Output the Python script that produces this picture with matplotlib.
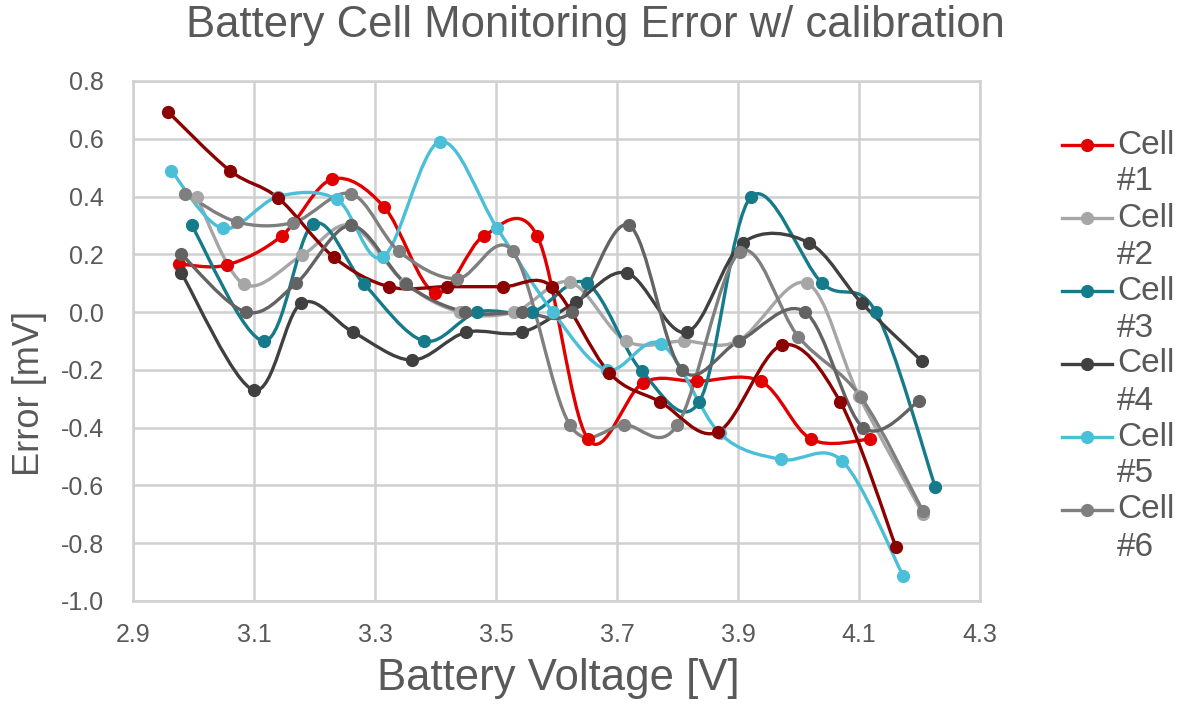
import matplotlib
matplotlib.use("Agg")
import matplotlib.pyplot as plt
from matplotlib.path import Path
from matplotlib.patches import PathPatch
from matplotlib.lines import Line2D

plt.rcParams['font.family'] = ['Liberation Sans', 'DejaVu Sans']

# --- data (battery voltage [V], error [mV]) ---
cell1_v = [2.976, 3.055, 3.146, 3.229, 3.315, 3.400, 3.480, 3.568, 3.652, 3.743, 3.832, 3.938, 4.021, 4.118]
cell1_e = [0.167, 0.163, 0.264, 0.46, 0.364, 0.066, 0.264, 0.264, -0.44, -0.245, -0.24, -0.24, -0.44, -0.44]

cell2_v = [3.005, 3.083, 3.180, 3.260, 3.350, 3.440, 3.530, 3.622, 3.715, 3.810, 3.900, 4.014, 4.100, 4.206]
cell2_e = [0.40, 0.097, 0.198, 0.30, 0.10, 0.0, 0.0, 0.104, -0.10, -0.10, -0.10, 0.10, -0.29, -0.70]

cell3_v = [2.997, 3.117, 3.198, 3.282, 3.381, 3.469, 3.560, 3.650, 3.741, 3.836, 3.922, 4.039, 4.128, 4.226]
cell3_e = [0.30, -0.10, 0.305, 0.097, -0.10, 0.0, 0.0, 0.10, -0.205, -0.31, 0.40, 0.10, 0.0, -0.605]

cell4_v = [2.980, 3.100, 3.178, 3.264, 3.361, 3.450, 3.543, 3.632, 3.717, 3.815, 3.908, 4.017, 4.105, 4.204]
cell4_e = [0.135, -0.27, 0.03, -0.07, -0.166, -0.07, -0.07, 0.035, 0.135, -0.07, 0.24, 0.24, 0.03, -0.17]

cell5_v = [2.963, 3.048, 3.140, 3.237, 3.313, 3.407, 3.502, 3.594, 3.683, 3.773, 3.870, 3.971, 4.072, 4.173]
cell5_e = [0.49, 0.29, 0.40, 0.39, 0.19, 0.59, 0.29, 0.0, -0.20, -0.11, -0.42, -0.51, -0.515, -0.913]

cell6_v = [2.986, 3.072, 3.165, 3.260, 3.340, 3.435, 3.528, 3.622, 3.712, 3.800, 3.903, 4.000, 4.103, 4.206]
cell6_e = [0.41, 0.312, 0.31, 0.41, 0.21, 0.115, 0.21, -0.39, -0.39, -0.39, 0.208, -0.086, -0.294, -0.69]

cell7_v = [2.958, 3.060, 3.140, 3.232, 3.323, 3.419, 3.512, 3.593, 3.687, 3.771, 3.867, 3.973, 4.069, 4.161]
cell7_e = [0.693, 0.49, 0.395, 0.19, 0.088, 0.088, 0.088, 0.088, -0.21, -0.31, -0.415, -0.114, -0.311, -0.813]

cell8_v = [2.980, 3.087, 3.170, 3.260, 3.352, 3.449, 3.543, 3.625, 3.720, 3.807, 3.902, 4.011, 4.107, 4.200]
cell8_e = [0.20, 0.0, 0.10, 0.30, 0.097, 0.0, 0.0, 0.0, 0.30, -0.20, -0.10, 0.0, -0.40, -0.307]

labels = ['Cell\n#1', 'Cell\n#2', 'Cell\n#3', 'Cell\n#4', 'Cell\n#5', 'Cell\n#6']
colors = ['#E00000', '#A6A6A6', '#157A8A', '#404040', '#4BBFD7', '#7F7F7F', '#8B0000', '#636363']
series = [(cell1_v, cell1_e), (cell2_v, cell2_e), (cell3_v, cell3_e), (cell4_v, cell4_e),
          (cell5_v, cell5_e), (cell6_v, cell6_e), (cell7_v, cell7_e), (cell8_v, cell8_e)]

TXT = '#595959'


def smooth_path(xs, ys):
    # Excel-like smoothed line: cubic bezier through the points
    pts = list(zip(xs, ys))
    n = len(pts)
    verts = [pts[0]]
    codes = [Path.MOVETO]
    for i in range(n - 1):
        p0 = pts[max(i - 1, 0)]
        p1 = pts[i]
        p2 = pts[i + 1]
        p3 = pts[min(i + 2, n - 1)]
        c1 = (p1[0] + (p2[0] - p0[0]) / 6, p1[1] + (p2[1] - p0[1]) / 6)
        c2 = (p2[0] - (p3[0] - p1[0]) / 6, p2[1] - (p3[1] - p1[1]) / 6)
        verts += [c1, c2, p2]
        codes += [Path.CURVE4] * 3
    return Path(verts, codes)


fig = plt.figure(figsize=(11.82, 7.13), dpi=100)
ax = fig.add_axes([133 / 1182, 1 - 601 / 713, 847 / 1182, 520 / 713])

for (xs, ys), c in zip(series, colors):
    ax.add_patch(PathPatch(smooth_path(xs, ys), facecolor='none', edgecolor=c, lw=2.4, zorder=3))
    ax.plot(xs, ys, ls='none', marker='o', ms=8.5, color=c, zorder=4)

ax.set_xlim(2.9, 4.3)
ax.set_ylim(-1.0, 0.8)
ax.set_xticks([2.9, 3.1, 3.3, 3.5, 3.7, 3.9, 4.1, 4.3])
ax.set_yticks([-1.0, -0.8, -0.6, -0.4, -0.2, 0.0, 0.2, 0.4, 0.6, 0.8])
ax.set_xticklabels(['%.1f' % t for t in ax.get_xticks()])
ax.set_yticklabels(['%.1f' % t for t in ax.get_yticks()])
ax.tick_params(length=0, labelsize=18, labelcolor=TXT)
ax.tick_params(axis='y', pad=21)
ax.tick_params(axis='x', pad=16)
ax.grid(True, color='#D0D0D0', lw=1.8, zorder=0)
ax.set_axisbelow(True)
for s in ax.spines.values():
    s.set_color('#D0D0D0')
    s.set_linewidth(1.8)

ax.set_xlabel('Battery Voltage [V]', fontsize=31.5, color=TXT)
ax.set_ylabel('Error [mV]', fontsize=26, color=TXT)
ax.xaxis.set_label_coords(0.502, -0.11)
ax.yaxis.set_label_coords(-0.102, 0.40)

fig.text(0.504, 1 - 26 / 713, 'Battery Cell Monitoring Error w/ calibration',
         ha='center', va='center', fontsize=31.4, color=TXT)

# legend (Excel wraps the labels onto two lines; only first six cells shown)
for i, (lab, c) in enumerate(zip(labels, colors[:6])):
    yc = 1 - (145 + 73 * i) / 713
    fig.add_artist(Line2D([1062 / 1182, 1112 / 1182], [yc, yc], color=c, lw=2.4,
                          transform=fig.transFigure))
    fig.add_artist(Line2D([1087 / 1182], [yc], marker='o', ms=8.5, color=c,
                          transform=fig.transFigure))
    fig.text(1117 / 1182, yc, lab.split('\n')[0], ha='left', va='center', fontsize=24, color=TXT)
    fig.text(1117 / 1182, yc - 37 / 713, lab.split('\n')[1], ha='left', va='center', fontsize=24, color=TXT)

fig.savefig('out.png', dpi=100)
